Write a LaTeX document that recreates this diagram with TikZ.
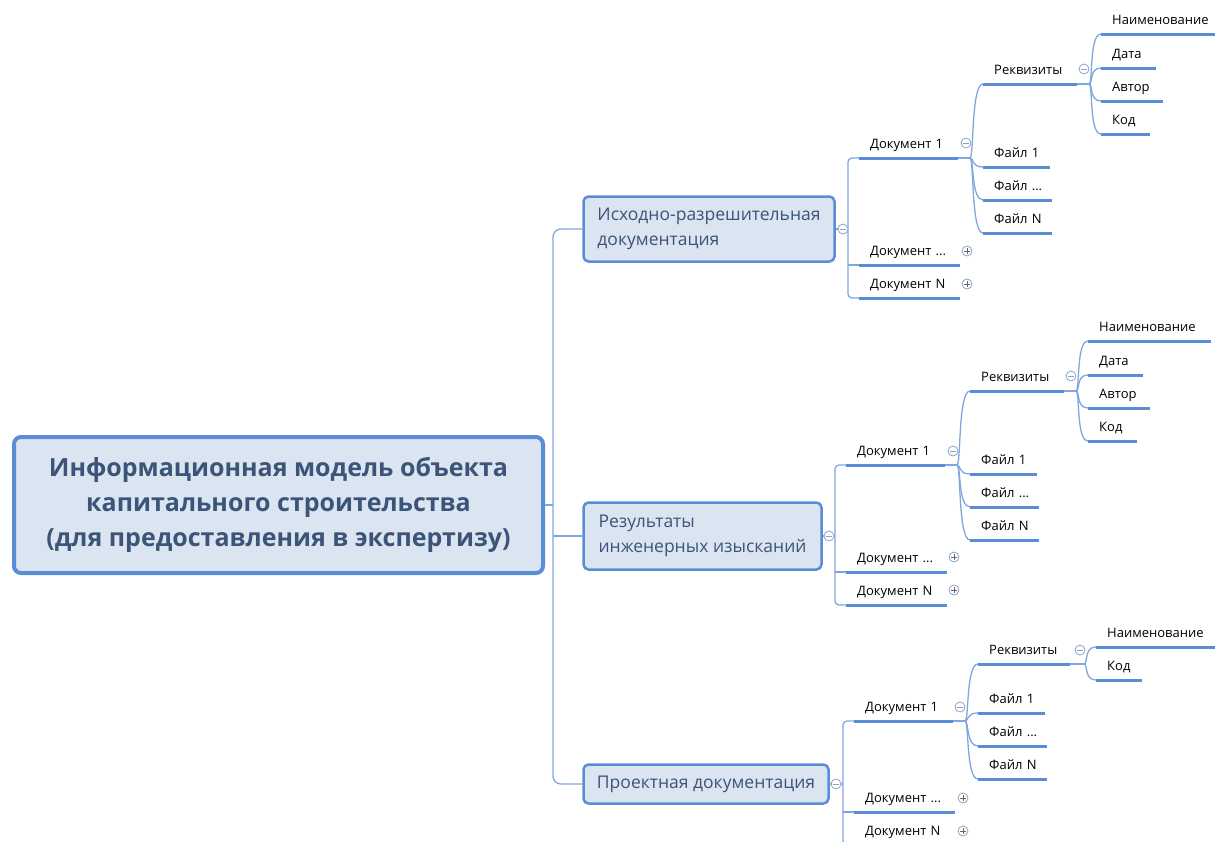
\documentclass[tikz,border=0pt]{standalone}
\usepackage{fontspec}
\setmainfont{Open Sans}
\usetikzlibrary{positioning}

\definecolor{mapline}{HTML}{5B8DD6}
\definecolor{maplink}{HTML}{7FA7DF}
\definecolor{mapfill}{HTML}{DBE5F1}
\definecolor{maptext}{HTML}{3B5478}
\definecolor{mapsign}{HTML}{8CA3C4}

\tikzset{
  central/.style={draw=mapline, line width=4pt, fill=mapfill, rounded corners=7pt,
    text=maptext, font=\fontsize{25}{35}\selectfont\bfseries, align=center,
    minimum width=529pt, minimum height=136pt},
  topic/.style={draw=mapline, line width=2.5pt, fill=mapfill, rounded corners=5pt,
    text=maptext, font=\fontsize{17.5}{25}\selectfont, align=left},
  leaf/.style={anchor=south west, text width=#1, align=left, inner xsep=11pt,
    inner ysep=4pt, text height=10pt, text depth=5pt, font=\fontsize{13}{15}\selectfont},
  bar/.style={draw=mapline, line width=3pt},
  link/.style={draw=maplink, line width=1.3pt},
  shut/.style={circle, draw=mapsign, fill=white, line width=0.8pt, minimum size=10pt, inner sep=0pt,
    path picture={\draw[mapsign, line width=0.9pt] ([xshift=-2.8pt]path picture bounding box.center)
      -- ([xshift=2.8pt]path picture bounding box.center);}},
  more/.style={circle, draw=mapsign, fill=white, line width=0.8pt, minimum size=10pt, inner sep=0pt,
    path picture={\draw[black!60, line width=0.9pt] ([xshift=-2.8pt]path picture bounding box.center)
      -- ([xshift=2.8pt]path picture bounding box.center)
      ([yshift=-2.8pt]path picture bounding box.center)
      -- ([yshift=2.8pt]path picture bounding box.center);}}
}

\begin{document}
\begin{tikzpicture}[x=1pt, y=-1pt]
  \useasboundingbox (0,0) rectangle (1215,841);

  \node[central] (root) at (278.5,505) {Информационная модель объекта\\капитального строительства\\(для предоставления в экспертизу)};
  \node[topic, minimum width=251pt, minimum height=65pt] (ird) at (709,229) {Исходно-разрешительная\\документация};
  \node[topic, minimum width=238pt, minimum height=67pt] (rii) at (702.5,536) {Результаты\\инженерных изысканий};
  \node[topic, minimum width=245pt, minimum height=39pt] (pd) at (706,784) {Проектная документация};

  \node[leaf=77pt] (d1a) at (859,158) {Документ~1};
  \node[leaf=79pt] (dMa) at (859,265) {Документ~...};
  \node[leaf=79pt] (dNa) at (859,298) {Документ~N};
  \node[leaf=72pt] (rka) at (983,84) {Реквизиты};
  \node[leaf=45pt] (f1a) at (983,167) {Файл~1};
  \node[leaf=47pt] (fMa) at (983,200) {Файл~...};
  \node[leaf=47pt] (fNa) at (983,233) {Файл~N};
  \node[leaf=101pt] (nma) at (1101,34) {Наименование};
  \node[leaf=33pt] (dta) at (1101,68) {Дата};
  \node[leaf=40pt] (ava) at (1101,101) {Автор};
  \node[leaf=27pt] (kda) at (1101,134) {Код};

  \node[leaf=77pt] (d1b) at (846,465) {Документ~1};
  \node[leaf=79pt] (dMb) at (846,572) {Документ~...};
  \node[leaf=79pt] (dNb) at (846,605) {Документ~N};
  \node[leaf=72pt] (rkb) at (970,391) {Реквизиты};
  \node[leaf=45pt] (f1b) at (970,474) {Файл~1};
  \node[leaf=47pt] (fMb) at (970,507) {Файл~...};
  \node[leaf=47pt] (fNb) at (970,540) {Файл~N};
  \node[leaf=101pt] (nmb) at (1088,341) {Наименование};
  \node[leaf=33pt] (dtb) at (1088,375) {Дата};
  \node[leaf=40pt] (avb) at (1088,408) {Автор};
  \node[leaf=27pt] (kdb) at (1088,441) {Код};

  \node[leaf=77pt] (d1c) at (854,721) {Документ~1};
  \node[leaf=79pt] (dMc) at (854,812) {Документ~...};
  \node[leaf=79pt] (dNc) at (854,845) {Документ~N};
  \node[leaf=70pt] (rkc) at (978,664) {Реквизиты};
  \node[leaf=45pt] (f1c) at (978,713) {Файл~1};
  \node[leaf=47pt] (fMc) at (978,746) {Файл~...};
  \node[leaf=47pt] (fNc) at (978,779) {Файл~N};
  \node[leaf=101pt] (nmc) at (1096,647) {Наименование};
  \node[leaf=24pt] (kdc) at (1096,680) {Код};

  \foreach \n in {d1a,dMa,dNa,rka,f1a,fMa,fNa,nma,dta,ava,kda,
                  d1b,dMb,dNb,rkb,f1b,fMb,fNb,nmb,dtb,avb,kdb,
                  d1c,dMc,dNc,rkc,f1c,fMc,fNc,nmc,kdc}
    \draw[bar] (\n.south west) -- (\n.south east);

  \coordinate (hub) at (553,505);
  \draw[link] (root.east) -- (hub);
  \draw[link, rounded corners=8pt] (ird.west) -| (hub) |- (pd.west);
  \draw[link] (hub |- rii.west) -- (rii.west);

  \coordinate (ka) at (848,229);
  \coordinate (kb) at (835,536);
  \coordinate (kc) at (843,784);
  \draw[link] (ird.east) -- (ka);
  \draw[link] (rii.east) -- (kb);
  \draw[link] (pd.east) -- (kc);
  \draw[link, rounded corners=4pt] (d1a.south west) -| (ka) |- (dNa.south west);
  \draw[link, rounded corners=4pt] (d1b.south west) -| (kb) |- (dNb.south west);
  \draw[link, rounded corners=4pt] (d1c.south west) -| (kc) |- (dNc.south west);
  \draw[link] (ka |- dMa.south west) -- (dMa.south west);
  \draw[link] (kb |- dMb.south west) -- (dMb.south west);
  \draw[link] (kc |- dMc.south west) -- (dMc.south west);

  \coordinate (ja) at (970,158);
  \coordinate (jb) at (957,465);
  \coordinate (jc) at (965,721);
  \draw[link] (d1a.south east) -- (ja);
  \draw[link] (d1b.south east) -- (jb);
  \draw[link] (d1c.south east) -- (jc);
  \foreach \n in {rka,f1a,fMa,fNa}
    \draw[link] (ja) .. controls +(4,0) and +(-12,0) .. (\n.south west);
  \foreach \n in {rkb,f1b,fMb,fNb}
    \draw[link] (jb) .. controls +(4,0) and +(-12,0) .. (\n.south west);
  \foreach \n in {rkc,f1c,fMc,fNc}
    \draw[link] (jc) .. controls +(4,0) and +(-12,0) .. (\n.south west);

  \coordinate (ia) at (1089,84);
  \coordinate (ib) at (1076,391);
  \coordinate (ic) at (1084,664);
  \draw[link] (rka.south east) -- (ia);
  \draw[link] (rkb.south east) -- (ib);
  \draw[link] (rkc.south east) -- (ic);
  \foreach \n in {nma,dta,ava,kda}
    \draw[link] (ia) .. controls +(4,0) and +(-12,0) .. (\n.south west);
  \foreach \n in {nmb,dtb,avb,kdb}
    \draw[link] (ib) .. controls +(4,0) and +(-12,0) .. (\n.south west);
  \foreach \n in {nmc,kdc}
    \draw[link] (ic) .. controls +(4,0) and +(-12,0) .. (\n.south west);

  \node[shut] (sa) at (843,229) {};
  \node[shut] (sb) at (829,536) {};
  \node[shut] (sc) at (836,784) {};
  \node[shut] (ta) at (966,143) {};
  \node[shut] (tb) at (953,451) {};
  \node[shut] (tc) at (960,707) {};
  \node[shut] (ua) at (1084,69) {};
  \node[shut] (ub) at (1071,376) {};
  \node[shut] (uc) at (1080,650) {};
  \node[more] (pa1) at (967,251) {};
  \node[more] (pa2) at (967,284) {};
  \node[more] (pb1) at (954,557) {};
  \node[more] (pb2) at (954,590) {};
  \node[more] (pc1) at (963,798) {};
  \node[more] (pc2) at (963,831) {};
\end{tikzpicture}
\end{document}
